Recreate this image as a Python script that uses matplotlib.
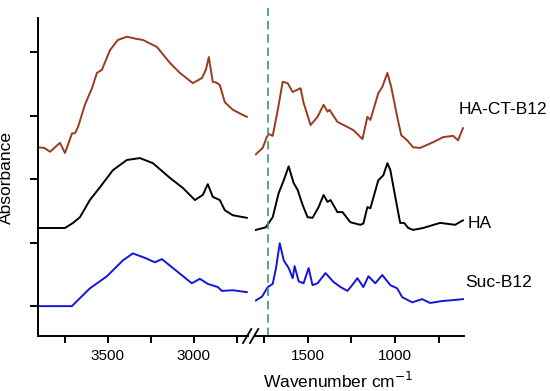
import matplotlib
matplotlib.use("Agg")
import matplotlib.pyplot as plt

plt.rcParams['font.family'] = ['Liberation Sans', 'DejaVu Sans']

# ---- data (offset absorbance, arbitrary units) ----
wn_red_hi = [3907, 3870, 3837, 3800, 3779, 3750, 3709, 3692, 3674, 3634, 3593, 3564, 3535, 3488,
             3442, 3390, 3340, 3297, 3215, 3140, 3081, 3006, 2953, 2930, 2913, 2890, 2870, 2849,
             2820, 2773, 2730, 2692]
ab_red_hi = [2.50, 2.49, 2.43, 2.52, 2.57, 2.41, 2.72, 2.72, 2.82, 3.17, 3.43, 3.67, 3.72, 4.03,
             4.19, 4.24, 4.21, 4.19, 4.08, 3.83, 3.67, 3.51, 3.59, 3.72, 3.92, 3.53, 3.52, 3.48,
             3.21, 3.09, 3.03, 2.98]

wn_ha_hi = [3907, 3750, 3703, 3663, 3605, 3547, 3471, 3390, 3314, 3238, 3140, 3064, 2994, 2948,
            2919, 2890, 2849, 2820, 2773, 2692]
ab_ha_hi = [1.23, 1.23, 1.31, 1.40, 1.67, 1.87, 2.14, 2.30, 2.33, 2.25, 2.02, 1.86, 1.67, 1.75,
            1.92, 1.72, 1.67, 1.51, 1.43, 1.39]

wn_suc_hi = [3907, 3710, 3605, 3506, 3413, 3355, 3285, 3227, 3186, 3122, 3012, 2965, 2919, 2860,
             2837, 2773, 2692]
ab_suc_hi = [0.00, 0.00, 0.28, 0.47, 0.72, 0.83, 0.76, 0.69, 0.74, 0.60, 0.36, 0.43, 0.35, 0.30,
             0.24, 0.25, 0.22]

wn_red_lo = [1795, 1756, 1733, 1722, 1699, 1670, 1642, 1614, 1585, 1540, 1523, 1483, 1443, 1409,
             1386, 1375, 1330, 1273, 1239, 1187, 1159, 1142, 1097, 1074, 1045, 1023, 989, 966,
             932, 898, 858, 784, 727, 670, 642, 614]
ab_red_lo = [2.39, 2.49, 2.66, 2.71, 2.68, 3.09, 3.53, 3.51, 3.37, 3.43, 3.20, 2.85, 2.98, 3.17,
             3.06, 3.09, 2.90, 2.82, 2.77, 2.63, 2.98, 2.93, 3.35, 3.45, 3.67, 3.45, 2.98, 2.69,
             2.61, 2.50, 2.49, 2.58, 2.66, 2.68, 2.61, 2.80]

wn_ha_lo = [1795, 1739, 1699, 1665, 1636, 1608, 1580, 1557, 1528, 1500, 1472, 1437, 1409, 1386,
            1369, 1330, 1301, 1256, 1199, 1182, 1159, 1142, 1097, 1068, 1045, 1028, 1000, 972,
            949, 926, 898, 841, 744, 659, 614]
ab_ha_lo = [1.20, 1.24, 1.40, 1.78, 1.98, 2.20, 1.94, 1.83, 1.59, 1.40, 1.39, 1.56, 1.75, 1.64,
            1.67, 1.48, 1.48, 1.32, 1.28, 1.30, 1.56, 1.54, 1.98, 2.06, 2.25, 2.14, 1.72, 1.31,
            1.31, 1.23, 1.20, 1.23, 1.31, 1.28, 1.35]

wn_suc_lo = [1795, 1760, 1727, 1699, 1680, 1659, 1636, 1608, 1585, 1574, 1551, 1523, 1494, 1472,
             1443, 1398, 1352, 1312, 1273, 1240, 1216, 1182, 1153, 1114, 1074, 1028, 989, 960,
             903, 847, 801, 733, 650, 614]
ab_suc_lo = [0.09, 0.15, 0.30, 0.35, 0.60, 0.99, 0.72, 0.60, 0.44, 0.63, 0.39, 0.36, 0.60, 0.33,
             0.36, 0.52, 0.38, 0.30, 0.24, 0.35, 0.44, 0.30, 0.47, 0.36, 0.49, 0.33, 0.28, 0.14,
             0.06, 0.11, 0.05, 0.08, 0.10, 0.11]

labels = ["HA-CT-B12", "HA", "Suc-B12"]
colors = ["#9a3a20", "#000000", "#1414dc"]
label_pos = [(640, 3.10), (590, 1.30), (600, 0.37)]
marker_wn = 1727
y_ticks = [0, 1, 2, 3, 4]
x_ticks_hi = [3500, 3000]
x_minor_hi = [3750, 3250, 2750]
x_ticks_lo = [1500, 1000]
x_minor_lo = [1750, 1250, 750]

W, H = 550, 391
fig = plt.figure(figsize=(W / 100, H / 100), dpi=100)
bot = 1 - 336 / H
top = 1 - 18 / H
ax1 = fig.add_axes([38 / W, bot, (248 - 38) / W, top - bot])
ax2 = fig.add_axes([255 / W, bot, (464 - 255) / W, top - bot])

lw = 1.4
for wn, ab, c in [(wn_red_hi, ab_red_hi, colors[0]), (wn_ha_hi, ab_ha_hi, colors[1]),
                  (wn_suc_hi, ab_suc_hi, colors[2])]:
    ax1.plot(wn, ab, color=c, lw=lw)
for wn, ab, c in [(wn_red_lo, ab_red_lo, colors[0]), (wn_ha_lo, ab_ha_lo, colors[1]),
                  (wn_suc_lo, ab_suc_lo, colors[2])]:
    ax2.plot(wn, ab, color=c, lw=lw)

ylim = (-0.47, 4.535)
ax1.set_xlim(3907, 2685)
ax2.set_xlim(1800, 608)
for ax in (ax1, ax2):
    ax.set_ylim(*ylim)
    ax.spines['top'].set_visible(False)
    ax.spines['right'].set_visible(False)
    ax.spines['bottom'].set_linewidth(1.4)
    ax.spines['left'].set_linewidth(1.4)
    ax.tick_params(axis='x', which='major', direction='out', length=5, width=1.4,
                   labelsize=11, pad=4)
    ax.tick_params(axis='x', which='minor', direction='out', length=5, width=1.4)
    ax.tick_params(axis='y', direction='out', length=6, width=1.4)

ax1.set_xticks(x_ticks_hi)
ax1.set_xticks(x_minor_hi, minor=True)
ax2.set_xticks(x_ticks_lo)
ax2.set_xticks(x_minor_lo, minor=True)
ax1.set_yticks(y_ticks)
ax1.set_yticklabels([])
ax2.spines['left'].set_visible(False)
ax2.set_yticks([])

ax2.axvline(marker_wn, ymin=0, ymax=1.032, color="#3a9a70", lw=1.2,
            dashes=(5, 3), clip_on=False)

for lab, (x, y) in zip(labels, label_pos):
    ax2.text(x, y, lab, fontsize=12.5, ha='left', va='center', clip_on=False)

# break marks
d = 0.018
kw = dict(transform=fig.transFigure, color='k', lw=1.3, clip_on=False)
for x0 in (243 / W, 250 / W):
    fig.add_artist(plt.Line2D([x0, x0 + 0.015], [bot - d, bot + d], **kw))

ax1.set_ylabel("Absorbance", fontsize=12.5, labelpad=8)
fig.text(338 / W, 1 - 381 / H, "Wavenumber cm$^{-1}$", fontsize=12.5,
         ha='center', va='center', math_fontfamily='dejavusans')

fig.savefig("out.png", dpi=100)
